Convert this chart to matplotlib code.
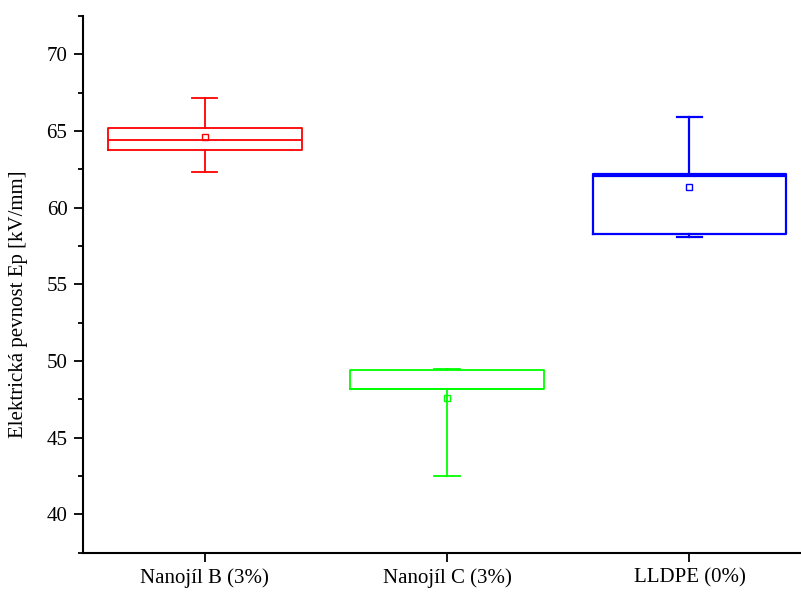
import matplotlib
matplotlib.use("Agg")
import matplotlib.pyplot as plt
from matplotlib.ticker import MultipleLocator

plt.rcParams['font.family'] = ['Liberation Serif', 'DejaVu Serif']

# hodnoty
labels = ['Nanojíl B (3%)', 'Nanojíl C (3%)', 'LLDPE (0%)']
whislo = [62.35, 42.5, 58.08]
q1 = [63.77, 48.15, 58.30]
med = [64.40, 48.15, 62.03]
q3 = [65.21, 49.43, 62.20]
whishi = [67.17, 49.45, 65.88]
means = [64.59, 47.56, 61.33]
colors = ['#ff0000', '#00ff00', '#0000ff']

fig = plt.figure(figsize=(8.01, 5.92), dpi=100)
ax = fig.add_axes([0.1042, 0.0667, 0.8958, 0.9063])

for i in range(len(labels)):
    st = [dict(label=labels[i], whislo=whislo[i], q1=q1[i], med=med[i],
               q3=q3[i], whishi=whishi[i], mean=means[i], fliers=[])]
    c = colors[i]
    lw = 1.6 if i == 2 else 1.3
    ax.bxp(st, positions=[i + 1], widths=0.8, capwidths=0.105,
           showmeans=True, showfliers=False,
           boxprops=dict(color=c, linewidth=lw),
           medianprops=dict(color=c, linewidth=lw),
           whiskerprops=dict(color=c, linewidth=lw),
           capprops=dict(color=c, linewidth=lw),
           meanprops=dict(marker='s', markerfacecolor='none',
                          markeredgecolor=c, markersize=5, markeredgewidth=1))

ax.set_xlim(0.5, 3.46)
ax.set_ylim(37.5, 72.5)
ax.set_xticks([1, 2, 3])
ax.set_xticklabels(labels)
ax.yaxis.set_major_locator(MultipleLocator(5))
ax.yaxis.set_minor_locator(MultipleLocator(2.5))
ax.set_yticks([40, 45, 50, 55, 60, 65, 70])

ax.spines['top'].set_visible(False)
ax.spines['right'].set_visible(False)
ax.spines['left'].set_linewidth(1.5)
ax.spines['bottom'].set_linewidth(1.5)
ax.tick_params(axis='both', which='major', direction='out', length=6.5,
               width=1.3, labelsize=15)
ax.tick_params(axis='y', which='minor', direction='out', length=3.5, width=1.3)
ax.tick_params(axis='x', which='major', pad=5)
ax.tick_params(axis='y', which='major', pad=5)
ax.set_ylabel('Elektrická pevnost Ep [kV/mm]', fontsize=15)
ax.yaxis.set_label_coords(-0.077, 0.462)

fig.savefig('out.png', dpi=100)
